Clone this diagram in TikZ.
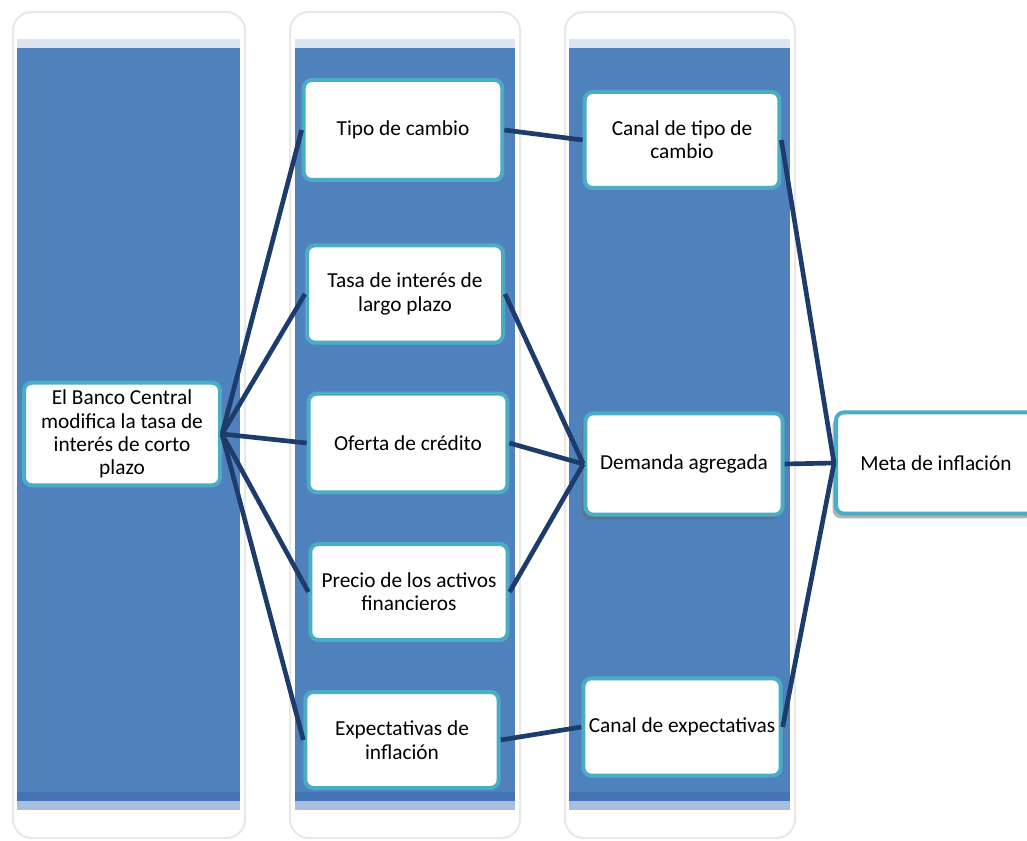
\documentclass[tikz,border=0pt]{standalone}
\usepackage{fontspec}
\setmainfont{Carlito}
\usetikzlibrary{shadows,calc}
\definecolor{colblue}{HTML}{4F81BD}
\definecolor{coldark}{HTML}{4573B6}
\definecolor{collight}{HTML}{A8BEDF}
\definecolor{coltop}{HTML}{DCE4F2}
\definecolor{boxline}{HTML}{4BACC6}
\definecolor{conn}{HTML}{1D3C6C}
\tikzset{
  colframe/.style={fill=white, draw=black!9, line width=1.5pt, rounded corners=14pt},
  box/.style={draw=boxline, fill=white, line width=3pt, rounded corners=6pt,
    align=center, inner sep=2pt, font=\fontsize{16}{17.5}\selectfont, text=black},
  shadowbox/.style={box, drop shadow={shadow xshift=-2.5pt, shadow yshift=-3.5pt, opacity=0.5, fill=black!60}},
  link/.style={draw=conn, line width=3.5pt}
}
\newcommand{\column}[4]{%
  \path[colframe] (#1,12) rectangle (#2,838);
  \fill[coltop] (#3,39) rectangle (#4,48);
  \fill[colblue] (#3,48) rectangle (#4,792);
  \fill[coldark] (#3,792) rectangle (#4,801);
  \fill[collight] (#3,801) rectangle (#4,810);
}
\begin{document}
\begin{tikzpicture}[x=0.75pt,y=-0.75pt]
\useasboundingbox (0,0) rectangle (1027,841);
\clip (0,0) rectangle (1027,841);
\fill[white] (0,0) rectangle (1027,841);
\column{13}{245}{17}{240}
\column{290}{520}{295}{515}
\column{565}{795}{569}{790}

\node[box, minimum width=147pt, minimum height=77pt] (bc) at (122,434)
  {El Banco Central\\modifica la tasa de\\interés de corto\\plazo};
\node[box, minimum width=149pt, minimum height=75pt] (tipo) at (403,130) {Tipo de cambio};
\node[box, minimum width=147pt, minimum height=73pt] (tasa) at (405,294) {Tasa de interés de\\largo plazo};
\node[box, minimum width=149pt, minimum height=74pt] (oferta) at (408,443) {Oferta de crédito};
\node[box, minimum width=148pt, minimum height=72pt] (precio) at (409,592) {Precio de los activos\\financieros};
\node[box, minimum width=145pt, minimum height=72pt] (expe) at (402,740) {Expectativas de\\inflación};
\node[box, minimum width=146pt, minimum height=72pt] (ctipo) at (682,140) {Canal de tipo de\\cambio};
\node[shadowbox, minimum width=148pt, minimum height=76pt] (dem) at (684,464) {Demanda agregada};
\node[box, minimum width=148pt, minimum height=73pt] (cexp) at (682,727) {Canal de expectativas};
\node[shadowbox, minimum width=150pt, minimum height=76pt] (meta) at (936,463) {Meta de inflación};

\draw[link] (bc.east) -- (tipo.west);
\draw[link] (bc.east) -- (tasa.west);
\draw[link] (bc.east) -- (oferta.west);
\draw[link] (bc.east) -- (precio.west);
\draw[link] (bc.east) -- (expe.west);
\draw[link] (tipo.east) -- (ctipo.west);
\draw[link] (tasa.east) -- (dem.west);
\draw[link] (oferta.east) -- (dem.west);
\draw[link] (precio.east) -- (dem.west);
\draw[link] (expe.east) -- (cexp.west);
\draw[link] (ctipo.east) -- (meta.west);
\draw[link] (dem.east) -- (meta.west);
\draw[link] (cexp.east) -- (meta.west);
\end{tikzpicture}
\end{document}
